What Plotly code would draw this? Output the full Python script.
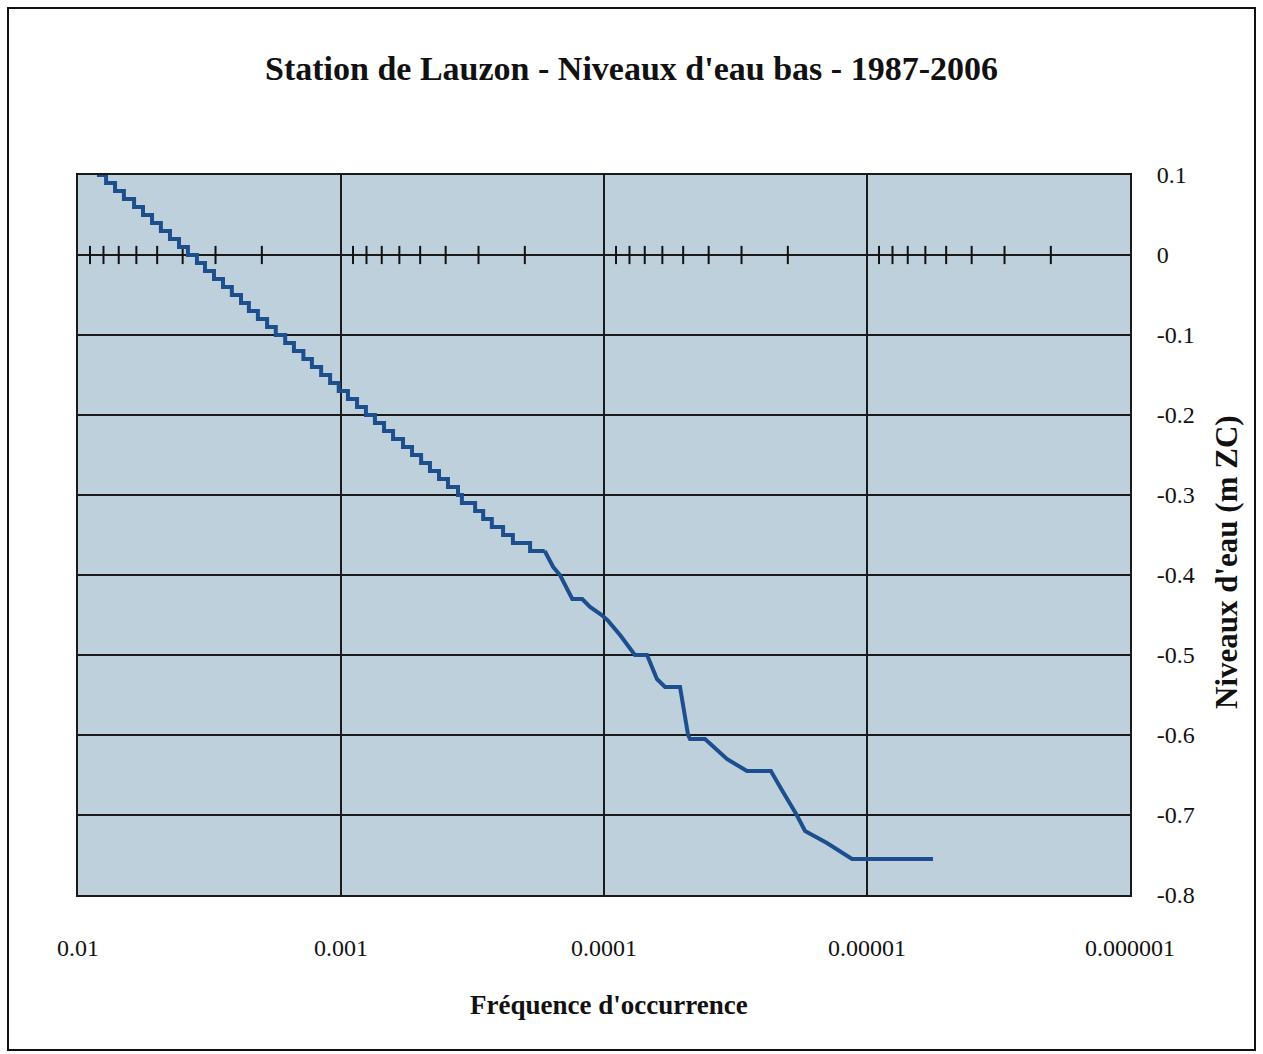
import plotly.graph_objects as go

# ---- data ----
# stair-step part: frequency at which each 0.01 m level begins
step_freq = [8.47e-3, 7.82e-3, 7.23e-3, 6.69e-3, 6.12e-3, 5.66e-3, 5.23e-3, 4.84e-3,
             4.47e-3, 4.13e-3, 3.82e-3, 3.53e-3, 3.29e-3, 3.04e-3, 2.81e-3, 2.60e-3,
             2.40e-3, 2.24e-3, 2.07e-3, 1.91e-3, 1.77e-3, 1.63e-3, 1.51e-3, 1.39e-3,
             1.29e-3, 1.19e-3, 1.10e-3, 1.02e-3, 9.41e-4, 8.69e-4, 8.04e-4, 7.43e-4,
             6.86e-4, 6.34e-4, 5.81e-4, 5.37e-4, 4.96e-4, 4.59e-4, 4.24e-4, 3.92e-4,
             3.59e-4, 3.47e-4, 3.09e-4, 2.88e-4, 2.67e-4, 2.42e-4, 2.22e-4, 1.91e-4,
             1.68e-4]
step_level = [0.10, 0.09, 0.08, 0.07, 0.06, 0.05, 0.04, 0.03, 0.02, 0.01, 0.00,
              -0.01, -0.02, -0.03, -0.04, -0.05, -0.06, -0.07, -0.08, -0.09, -0.10,
              -0.11, -0.12, -0.13, -0.14, -0.15, -0.16, -0.17, -0.18, -0.19, -0.20,
              -0.21, -0.22, -0.23, -0.24, -0.25, -0.26, -0.27, -0.28, -0.29, -0.30,
              -0.31, -0.32, -0.33, -0.34, -0.35, -0.36, -0.37, -0.37]

# tail part (rarer events)
tail_freq = [1.68e-4, 1.60e-4, 1.56e-4, 1.47e-4, 1.32e-4, 1.21e-4, 1.13e-4, 1.02e-4,
             9.66e-5, 8.69e-5, 7.63e-5, 6.86e-5, 6.29e-5, 5.86e-5, 5.14e-5, 4.79e-5,
             4.71e-5, 4.13e-5, 3.41e-5, 2.86e-5, 2.32e-5, 2.14e-5, 1.85e-5, 1.72e-5,
             1.42e-5, 1.14e-5, 5.61e-6]
tail_level = [-0.37, -0.385, -0.39, -0.40, -0.43, -0.43, -0.44, -0.45,
              -0.457, -0.475, -0.50, -0.50, -0.53, -0.54, -0.54, -0.60,
              -0.605, -0.605, -0.63, -0.645, -0.645, -0.665, -0.70, -0.72,
              -0.735, -0.755, -0.755]

# axis ticks
x_tickvals = [1e-2, 1e-3, 1e-4, 1e-5, 1e-6]
x_ticktext = ["0.01", "0.001", "0.0001", "0.00001", "0.000001"]
y_tickvals = [0.1, 0.0, -0.1, -0.2, -0.3, -0.4, -0.5, -0.6, -0.7, -0.8]
y_ticktext = ["0.1", "0", "-0.1", "-0.2", "-0.3", "-0.4", "-0.5", "-0.6", "-0.7", "-0.8"]
minor_mult = [2, 3, 4, 5, 6, 7, 8, 9]
decades = [1e-3, 1e-4, 1e-5, 1e-6]
zero_ticks = [m * d for d in decades for m in minor_mult]

TITLE = "Station de Lauzon - Niveaux d'eau bas - 1987-2006"
XTITLE = "Fréquence d'occurrence"
YTITLE = "Niveaux d'eau (m ZC)"

LINE_COLOR = "#1d4f8f"
FONT = "Liberation Serif"

fig = go.Figure()

# minor tick marks drawn on the zero line
fig.add_trace(go.Scatter(
    x=zero_ticks, y=[0] * len(zero_ticks), mode="markers",
    marker=dict(symbol="line-ns", size=13, line=dict(width=2, color="#111")),
    hoverinfo="skip", showlegend=False))

fig.add_trace(go.Scatter(
    x=step_freq, y=step_level, mode="lines", line_shape="hv",
    line=dict(color=LINE_COLOR, width=4), showlegend=False))
fig.add_trace(go.Scatter(
    x=tail_freq, y=tail_level, mode="lines",
    line=dict(color=LINE_COLOR, width=4), showlegend=False))

L, R, T, B = 78, 133, 175, 159
W, H = 1263, 1054
pw, ph = W - L - R, H - T - B

def px_x(x):
    return (x - L) / pw

def px_y(y):
    return (H - B - y) / ph

fig.update_layout(
    width=W, height=H,
    margin=dict(l=L, r=R, t=T, b=B),
    paper_bgcolor="white",
    plot_bgcolor="#bdd0dc",
    font=dict(family=FONT, color="#111", size=22),
    showlegend=False,
    title=dict(text="<b>" + TITLE + "</b>", x=0.5, xanchor="center",
               y=1 - 68 / H, yanchor="middle",
               font=dict(family=FONT, size=34, color="#111")),
    xaxis=dict(type="log", range=[-2, -6], tickvals=x_tickvals, ticktext=x_ticktext,
               showgrid=True, gridcolor="#1a1a1a", gridwidth=1.5,
               showline=True, linecolor="#1a1a1a", linewidth=2, mirror=True,
               zeroline=False, ticks="", ticklabelstandoff=30,
               tickfont=dict(family=FONT, size=24)),
    yaxis=dict(side="right", range=[-0.8, 0.1], tickvals=y_tickvals, ticktext=y_ticktext,
               showgrid=True, gridcolor="#1a1a1a", gridwidth=1.5,
               showline=True, linecolor="#1a1a1a", linewidth=2, mirror=True,
               zeroline=False, ticks="", ticklabelstandoff=20,
               tickfont=dict(family=FONT, size=24)),
)

# axis titles as annotations for precise placement
fig.add_annotation(text="<b>" + XTITLE + "</b>", xref="paper", yref="paper",
                   x=px_x(609), y=px_y(1005), showarrow=False,
                   xanchor="center", yanchor="middle",
                   font=dict(family=FONT, size=27, color="#111"))
fig.add_annotation(text="<b>" + YTITLE + "</b>", xref="paper", yref="paper",
                   x=px_x(1226), y=px_y(562), showarrow=False, textangle=-90,
                   xanchor="center", yanchor="middle",
                   font=dict(family=FONT, size=31, color="#111"))

# outer frame of the chart
fig.add_shape(type="rect", xref="paper", yref="paper",
              x0=px_x(8), x1=px_x(1255), y0=px_y(1050), y1=px_y(8),
              line=dict(color="#111", width=2), fillcolor="rgba(0,0,0,0)", layer="below")

fig.write_html("out.html")
